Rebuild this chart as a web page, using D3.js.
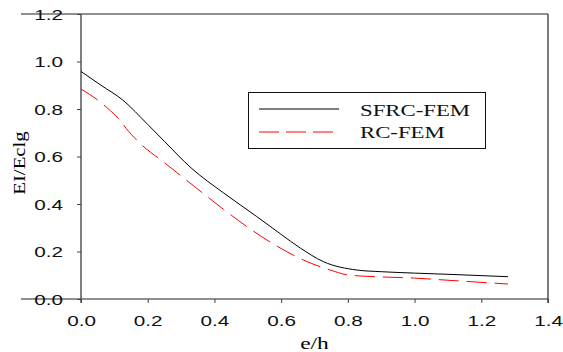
<!DOCTYPE html>
<html>
<head>
<meta charset="utf-8">
<script src="https://cdn.jsdelivr.net/npm/d3@7"></script>
<style>
  body { margin: 0; background: #fff; }
  svg { display: block; }
</style>
</head>
<body>
<div id="chart"></div>
<script>
// values
const eh = [0, 0.06, 0.125, 0.2, 0.25, 0.33, 0.427, 0.527, 0.6, 0.657, 0.727, 0.827, 0.9, 1.0, 1.1, 1.28];
const sfrcFem = [0.958, 0.9, 0.838, 0.735, 0.664, 0.552, 0.447, 0.347, 0.272, 0.215, 0.157, 0.122, 0.115, 0.109, 0.104, 0.094];
const ehRc = [0, 0.06, 0.08, 0.12, 0.135, 0.175, 0.25, 0.347, 0.427, 0.507, 0.587, 0.667, 0.747, 0.802, 0.9, 1.0, 1.1, 1.28];
const rcFem = [0.884, 0.827, 0.803, 0.747, 0.719, 0.658, 0.574, 0.466, 0.378, 0.295, 0.223, 0.164, 0.122, 0.101, 0.093, 0.088, 0.079, 0.063];
const xTicks = [0, 0.2, 0.4, 0.6, 0.8, 1.0, 1.2, 1.4];
const yTicks = [0, 0.2, 0.4, 0.6, 0.8, 1.0, 1.2];
const seriesNames = ['SFRC-FEM', 'RC-FEM'];

const width = 563;
const height = 352;
const stretch = 1.38; // the original picture is stretched sideways

const svg = d3.select('#chart')
  .append('svg')
  .attr('width', width)
  .attr('height', height);

const x = d3.scaleLinear().domain([0, 1.4]).range([81, 548]);
const y = d3.scaleLinear().domain([0, 1.2]).range([299, 14]);

// frame lines
svg.append('line')
  .attr('x1', 21).attr('x2', x(1.4))
  .attr('y1', y(1.2)).attr('y2', y(1.2))
  .attr('stroke', '#222').attr('stroke-width', 1.2);
svg.append('line')
  .attr('x1', 21).attr('x2', x(1.4))
  .attr('y1', y(0)).attr('y2', y(0))
  .attr('stroke', '#222').attr('stroke-width', 1.2);
svg.append('line')
  .attr('x1', x(1.4)).attr('x2', x(1.4))
  .attr('y1', y(1.2)).attr('y2', y(0) + 4)
  .attr('stroke', '#222').attr('stroke-width', 1.2);
svg.append('line')
  .attr('x1', x(0)).attr('x2', x(0))
  .attr('y1', y(1.2)).attr('y2', y(0) + 4)
  .attr('stroke', '#555').attr('stroke-width', 1.5);

// axes
const xAxis = svg.append('g')
  .attr('transform', `translate(0,${y(0)})`)
  .call(d3.axisBottom(x).tickValues(xTicks).tickFormat(d3.format('.1f')).tickSize(4));
const yAxis = svg.append('g')
  .attr('transform', `translate(${x(0)},0)`)
  .call(d3.axisLeft(y).tickValues(yTicks).tickFormat(d3.format('.1f')).tickSize(4));

[xAxis, yAxis].forEach((ax) => {
  ax.select('.domain').remove();
  ax.selectAll('.tick line').attr('stroke', '#444');
  ax.selectAll('text')
    .attr('fill', '#111')
    .style('font-family', 'Liberation Sans, Arial, sans-serif')
    .style('font-size', '15px');
});
xAxis.selectAll('text')
  .attr('y', 27).attr('dy', 0)
  .attr('transform', `scale(${stretch},1)`);
yAxis.selectAll('text')
  .attr('x', -18 / stretch).attr('dy', '0.36em')
  .attr('transform', `scale(${stretch},1)`);

// axis titles
svg.append('g')
  .attr('transform', `translate(${x(0.7)},349)`)
  .append('text')
  .attr('text-anchor', 'middle')
  .attr('transform', `scale(${stretch},1)`)
  .style('font-family', 'Liberation Serif, Times New Roman, serif')
  .style('font-size', '17px')
  .text('e/h');

svg.append('g')
  .attr('transform', `translate(25,163) rotate(-90)`)
  .append('text')
  .attr('text-anchor', 'middle')
  .attr('transform', 'scale(1.3,1)')
  .style('font-family', 'Liberation Serif, Times New Roman, serif')
  .style('font-size', '16px')
  .text('EI/Eclg');

// curves
const line = d3.line()
  .x((d) => x(d[0]))
  .y((d) => y(d[1]))
  .curve(d3.curveMonotoneX);

svg.append('path')
  .datum(eh.map((v, i) => [v, sfrcFem[i]]))
  .attr('fill', 'none')
  .attr('stroke', '#000')
  .attr('stroke-width', 1)
  .attr('d', line);

svg.append('path')
  .datum(ehRc.map((v, i) => [v, rcFem[i]]))
  .attr('fill', 'none')
  .attr('stroke', '#ff0000')
  .attr('stroke-width', 1)
  .attr('stroke-dasharray', '20,8')
  .attr('d', line);

// legend
const legend = svg.append('g');
legend.append('rect')
  .attr('x', 248.5).attr('y', 92.5)
  .attr('width', 237).attr('height', 56)
  .attr('fill', '#fff')
  .attr('stroke', '#111')
  .attr('stroke-width', 1);

const legendItems = [
  { name: seriesNames[0], color: '#000', dash: null, ly: 109, ty: 116 },
  { name: seriesNames[1], color: '#ff0000', dash: '20,7', ly: 132, ty: 138 },
];
legendItems.forEach((it) => {
  legend.append('line')
    .attr('x1', 259).attr('x2', 339)
    .attr('y1', it.ly).attr('y2', it.ly)
    .attr('stroke', it.color)
    .attr('stroke-width', 1)
    .attr('stroke-dasharray', it.dash);
  legend.append('g')
    .attr('transform', `translate(360,${it.ty})`)
    .append('text')
    .attr('transform', `scale(${stretch},1)`)
    .style('font-family', 'Liberation Serif, Times New Roman, serif')
    .style('font-size', '16.5px')
    .attr('fill', '#111')
    .text(it.name);
});
</script>
</body>
</html>
